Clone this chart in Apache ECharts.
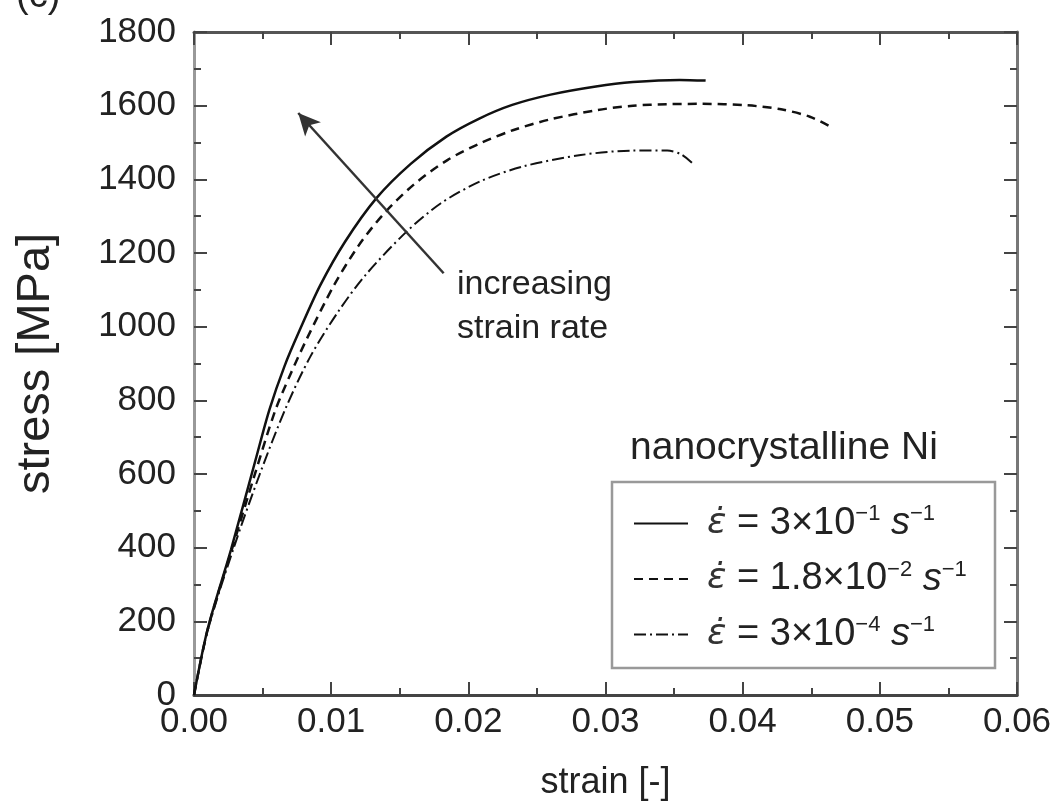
<!DOCTYPE html>
<html>
<head>
<meta charset="utf-8">
<script src="https://cdn.jsdelivr.net/npm/echarts@6/dist/echarts.min.js"></script>
<style>
  html, body { margin: 0; padding: 0; background: #fff; }
  #main { width: 1060px; height: 810px; }
</style>
</head>
<body>
<div id="main"></div>
<script>
// strain [-] / stress [MPa]
var strainFast = [0, 0.001, 0.0027, 0.0045, 0.0055, 0.0066, 0.0077, 0.0092, 0.011, 0.0133, 0.0158, 0.0184, 0.0208, 0.0232, 0.026, 0.0293, 0.032, 0.0354, 0.0373];
var stressFast = [0, 180, 395, 640, 775, 893, 990, 1112, 1230, 1349, 1442, 1516, 1565, 1602, 1630, 1652, 1664, 1670, 1668];

var strainMid = [0, 0.001, 0.0028, 0.0044, 0.0059, 0.007, 0.0082, 0.0102, 0.012, 0.0138, 0.016, 0.0185, 0.021, 0.0233, 0.026, 0.0294, 0.032, 0.0345, 0.037, 0.0403, 0.0428, 0.0449, 0.0464];
var stressMid = [0, 178, 400, 595, 770, 868, 965, 1112, 1220, 1305, 1385, 1453, 1500, 1534, 1563, 1588, 1600, 1604, 1605, 1601, 1590, 1570, 1543];

var strainSlow = [0, 0.001, 0.0029, 0.0048, 0.0067, 0.0085, 0.0105, 0.0125, 0.0155, 0.018, 0.0209, 0.024, 0.0282, 0.032, 0.0345, 0.0355, 0.0363];
var stressSlow = [0, 175, 400, 600, 780, 920, 1040, 1140, 1258, 1335, 1395, 1435, 1466, 1478, 1478, 1468, 1445];

var seriesNames = ['rate1', 'rate2', 'rate3'];
var rateMant = ['3', '1.8', '3'];
var rateExp = ['\u22121', '\u22122', '\u22124'];

// arrow "increasing strain rate": [strain, stress] of tail and head
var arrowTail = [0.0182, 1145];
var arrowHead = [0.0076, 1580];

var FONT = '"Liberation Sans", Arial, sans-serif';

function zip(xs, ys) {
	var out = [];
	for (var i = 0; i < xs.length; i++) out.push([xs[i], ys[i]]);
	return out;
}

function frameAxis(pos, color) {
	return {
		axisLine: { show: true, onZero: false, lineStyle: { color: color, width: 3 } },
		axisTick: { show: true, inside: true, length: 13, lineStyle: { color: '#444', width: 2 } },
		minorTick: { show: true, splitNumber: 2, length: 7, lineStyle: { color: '#444', width: 2 } },
		splitLine: { show: false },
		position: pos
	};
}

var myChart = echarts.init(document.getElementById('main'));

var xBottom = frameAxis('bottom', '#444');
xBottom.type = 'value';
xBottom.min = 0; xBottom.max = 0.06; xBottom.interval = 0.01;
xBottom.name = 'strain [-]';
xBottom.nameLocation = 'middle';
xBottom.nameGap = 70;
xBottom.nameTextStyle = { fontSize: 36, color: '#222', fontFamily: FONT };
xBottom.axisLabel = {
	fontSize: 35, color: '#222', margin: 10, fontFamily: FONT,
	formatter: function (v) { return v.toFixed(2); }
};

var xTop = frameAxis('top', '#555');
xTop.type = 'value';
xTop.min = 0; xTop.max = 0.06; xTop.interval = 0.01;
xTop.axisLabel = { show: false };

var yLeft = frameAxis('left', '#999');
yLeft.type = 'value';
yLeft.min = 0; yLeft.max = 1800; yLeft.interval = 200;
yLeft.name = 'stress [MPa]';
yLeft.nameLocation = 'middle';
yLeft.nameGap = 134;
yLeft.nameTextStyle = { fontSize: 47, color: '#222', fontFamily: FONT };
yLeft.axisLabel = {
	fontSize: 35, color: '#222', margin: 18, fontFamily: FONT,
	formatter: function (v) { return String(v); }
};

var yRight = frameAxis('right', '#777');
yRight.type = 'value';
yRight.min = 0; yRight.max = 1800; yRight.interval = 200;
yRight.axisLabel = { show: false };

var option = {
	backgroundColor: '#fff',
	animation: false,
	textStyle: { fontFamily: FONT, color: '#111' },
	grid: { left: 194, right: 43, top: 32, bottom: 115, containLabel: false },
	xAxis: [xBottom, xTop],
	yAxis: [yLeft, yRight],
	legend: {
		orient: 'vertical',
		left: 628,
		top: 498,
		itemWidth: 54,
		itemHeight: 20,
		itemGap: 16,
		data: seriesNames,
		itemStyle: { opacity: 0 },
		textStyle: {
			color: '#222',
			fontFamily: FONT,
			rich: {
				g: { width: 14 },
				e: { fontSize: 36, fontStyle: 'italic', fontFamily: '"DejaVu Sans", sans-serif', lineHeight: 41, color: '#333' },
				n: { fontSize: 38, lineHeight: 41, color: '#222', fontFamily: FONT },
				s: { fontSize: 38, lineHeight: 41, color: '#222', fontStyle: 'italic', fontFamily: FONT },
				sup: { fontSize: 22, lineHeight: 22, verticalAlign: 'top', color: '#222', fontFamily: FONT }
			}
		},
		formatter: function (name) {
			var i = seriesNames.indexOf(name);
			return '{g| }{e|\u03b5\u0307}{n| = ' + rateMant[i] + '\u00d710}{sup|' + rateExp[i] + '}{n| }{s|s}{sup|\u22121}';
		}
	},
	graphic: [{
		type: 'rect',
		shape: { x: 612, y: 482, width: 383, height: 186 },
		style: { fill: 'none', stroke: '#999', lineWidth: 2.5 },
		z: 10
	}, {
		type: 'text',
		left: 630, top: 429,
		style: { text: 'nanocrystalline Ni', font: '39px ' + FONT, fill: '#222' },
		z: 10
	}, {
		type: 'text',
		left: 457, top: 263,
		style: { text: 'increasing\nstrain rate', font: '34px ' + FONT, fill: '#222', lineHeight: 44 },
		z: 10
	}, {
		type: 'text',
		left: 16, top: -22,
		style: { text: '(c)', font: '38px ' + FONT, fill: '#222' },
		z: 10
	}],
	series: [{
		name: seriesNames[0],
		type: 'line',
		data: zip(strainFast, stressFast),
		smooth: 0.3,
		symbol: 'none',
		lineStyle: { color: '#111', width: 2.5, type: 'solid' },
		itemStyle: { color: '#111' },
		markLine: {
			silent: true,
			symbol: ['none', 'arrow'],
			symbolSize: [16, 22],
			label: { show: false },
			lineStyle: { color: '#333', width: 2.5, type: 'solid' },
			data: [[{ coord: arrowTail }, { coord: arrowHead }]]
		}
	}, {
		name: seriesNames[1],
		type: 'line',
		data: zip(strainMid, stressMid),
		smooth: 0.3,
		symbol: 'none',
		lineStyle: { color: '#111', width: 2.5, type: [9, 6] },
		itemStyle: { color: '#111' }
	}, {
		name: seriesNames[2],
		type: 'line',
		data: zip(strainSlow, stressSlow),
		smooth: 0.3,
		symbol: 'none',
		lineStyle: { color: '#111', width: 2, type: [12, 4, 2, 4] },
		itemStyle: { color: '#111' }
	}]
};

myChart.setOption(option);
</script>
</body>
</html>
